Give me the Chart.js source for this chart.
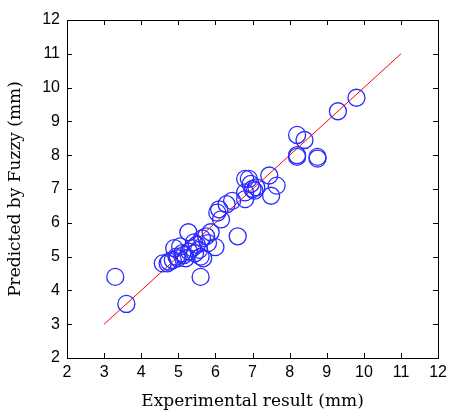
<!DOCTYPE html>
<html>
<head>
<meta charset="utf-8">
<script src="https://cdn.jsdelivr.net/npm/chart.js@4/dist/chart.umd.min.js"></script>
<style>
html,body{margin:0;padding:0;background:#fff;}
canvas{display:block;}
</style>
</head>
<body>
<canvas id="c" width="452" height="412"></canvas>
<script>
// Experimental result (mm)
const expX = [3.3, 3.6, 5.6, 6.6, 9.8, 9.3, 8.2, 8.4, 8.2, 8.2, 8.75, 8.75,
  7.45, 6.8, 6.9, 7.65, 7.5, 7.1, 7.0, 7.05, 6.95, 6.8, 6.8, 6.45, 6.3, 6.1, 6.05, 6.15,
  5.27, 5.87, 6.0, 5.67, 4.89, 4.58, 4.71, 5.42, 5.64, 5.11, 5.29, 5.38, 5.56,
  4.98, 4.85, 5.2, 5.5, 5.75, 4.95, 5.05, 5.6, 5.45, 4.75, 5.15, 5.8];
// Predicted by Fuzzy (mm)
const predY = [4.4, 3.6, 4.4, 5.6, 9.7, 9.3, 8.6, 8.45, 7.95, 8.0, 7.95, 7.9,
  7.4, 7.3, 7.3, 7.1, 6.8, 7.05, 7.0, 6.95, 7.15, 6.9, 6.7, 6.65, 6.55, 6.4, 6.3, 6.1,
  5.72, 5.72, 5.28, 4.95, 5.25, 4.8, 4.8, 5.42, 5.54, 5.1, 5.15, 5.25, 5.2,
  4.95, 4.9, 4.95, 5.35, 5.6, 5.0, 5.3, 5.0, 5.1, 4.85, 5.05, 5.4];
const lineX = [3, 11];
const lineY = [3, 11];
const xTicks = [2, 3, 4, 5, 6, 7, 8, 9, 10, 11, 12];
const yTicks = [2, 3, 4, 5, 6, 7, 8, 9, 10, 11, 12];

const scatterData = expX.map((x, i) => ({x: x, y: predY[i]}));
const lineData = lineX.map((x, i) => ({x: x, y: lineY[i]}));

const boxPlugin = {
  id: 'box',
  afterDatasetsDraw(chart) {
    const ctx = chart.ctx, a = chart.chartArea;
    const xs = chart.scales.x, ys = chart.scales.y;
    ctx.save();
    ctx.strokeStyle = '#000';
    ctx.lineWidth = 1;
    ctx.strokeRect(Math.round(a.left) + 0.5, Math.round(a.top) + 0.5,
                   Math.round(a.right - a.left), Math.round(a.bottom - a.top));
    const tl = 5;
    ctx.beginPath();
    xTicks.forEach(v => {
      const px = Math.round(xs.getPixelForValue(v)) + 0.5;
      ctx.moveTo(px, a.bottom); ctx.lineTo(px, a.bottom - tl);
      ctx.moveTo(px, a.top); ctx.lineTo(px, a.top + tl);
    });
    yTicks.forEach(v => {
      const py = Math.round(ys.getPixelForValue(v)) + 0.5;
      ctx.moveTo(a.left, py); ctx.lineTo(a.left + tl, py);
      ctx.moveTo(a.right, py); ctx.lineTo(a.right - tl, py);
    });
    ctx.stroke();
    ctx.restore();
  }
};

new Chart(document.getElementById('c'), {
  type: 'scatter',
  data: {
    datasets: [
      {
        type: 'line',
        data: lineData,
        borderColor: '#ff0000',
        borderWidth: 1,
        pointRadius: 0,
        fill: false,
        order: 2
      },
      {
        data: scatterData,
        borderColor: '#2a2aff',
        backgroundColor: 'rgba(0,0,0,0)',
        borderWidth: 1.3,
        pointRadius: 8.5,
        pointStyle: 'circle',
        order: 1
      }
    ]
  },
  options: {
    responsive: false,
    animation: false,
    devicePixelRatio: 1,
    layout: {padding: {left: 0, right: 11, top: 20, bottom: 0}},
    plugins: {legend: {display: false}, tooltip: {enabled: false}},
    scales: {
      x: {
        type: 'linear', min: 2, max: 12,
        afterBuildTicks: s => { s.ticks = xTicks.map(v => ({value: v})); },
        afterFit: s => { s.height = 54; },
        grid: {display: false, drawTicks: false},
        border: {display: false},
        ticks: {padding: 5, color: '#000', font: {family: 'Liberation Sans', size: 16}, maxRotation: 0, autoSkip: false},
        title: {display: true, text: 'Experimental result (mm)', color: '#000',
                font: {family: 'DejaVu Serif', size: 17}, padding: {top: 2, bottom: 0}}
      },
      y: {
        type: 'linear', min: 2, max: 12,
        afterBuildTicks: s => { s.ticks = yTicks.map(v => ({value: v})); },
        afterFit: s => { s.width = 67; },
        grid: {display: false, drawTicks: false},
        border: {display: false},
        ticks: {padding: 7, color: '#000', font: {family: 'Liberation Sans', size: 16}, autoSkip: false},
        title: {display: true, text: 'Predicted by Fuzzy (mm)', color: '#000',
                font: {family: 'DejaVu Serif', size: 17}, padding: {top: 5, bottom: 0}}
      }
    }
  },
  plugins: [boxPlugin]
});
</script>
</body>
</html>
